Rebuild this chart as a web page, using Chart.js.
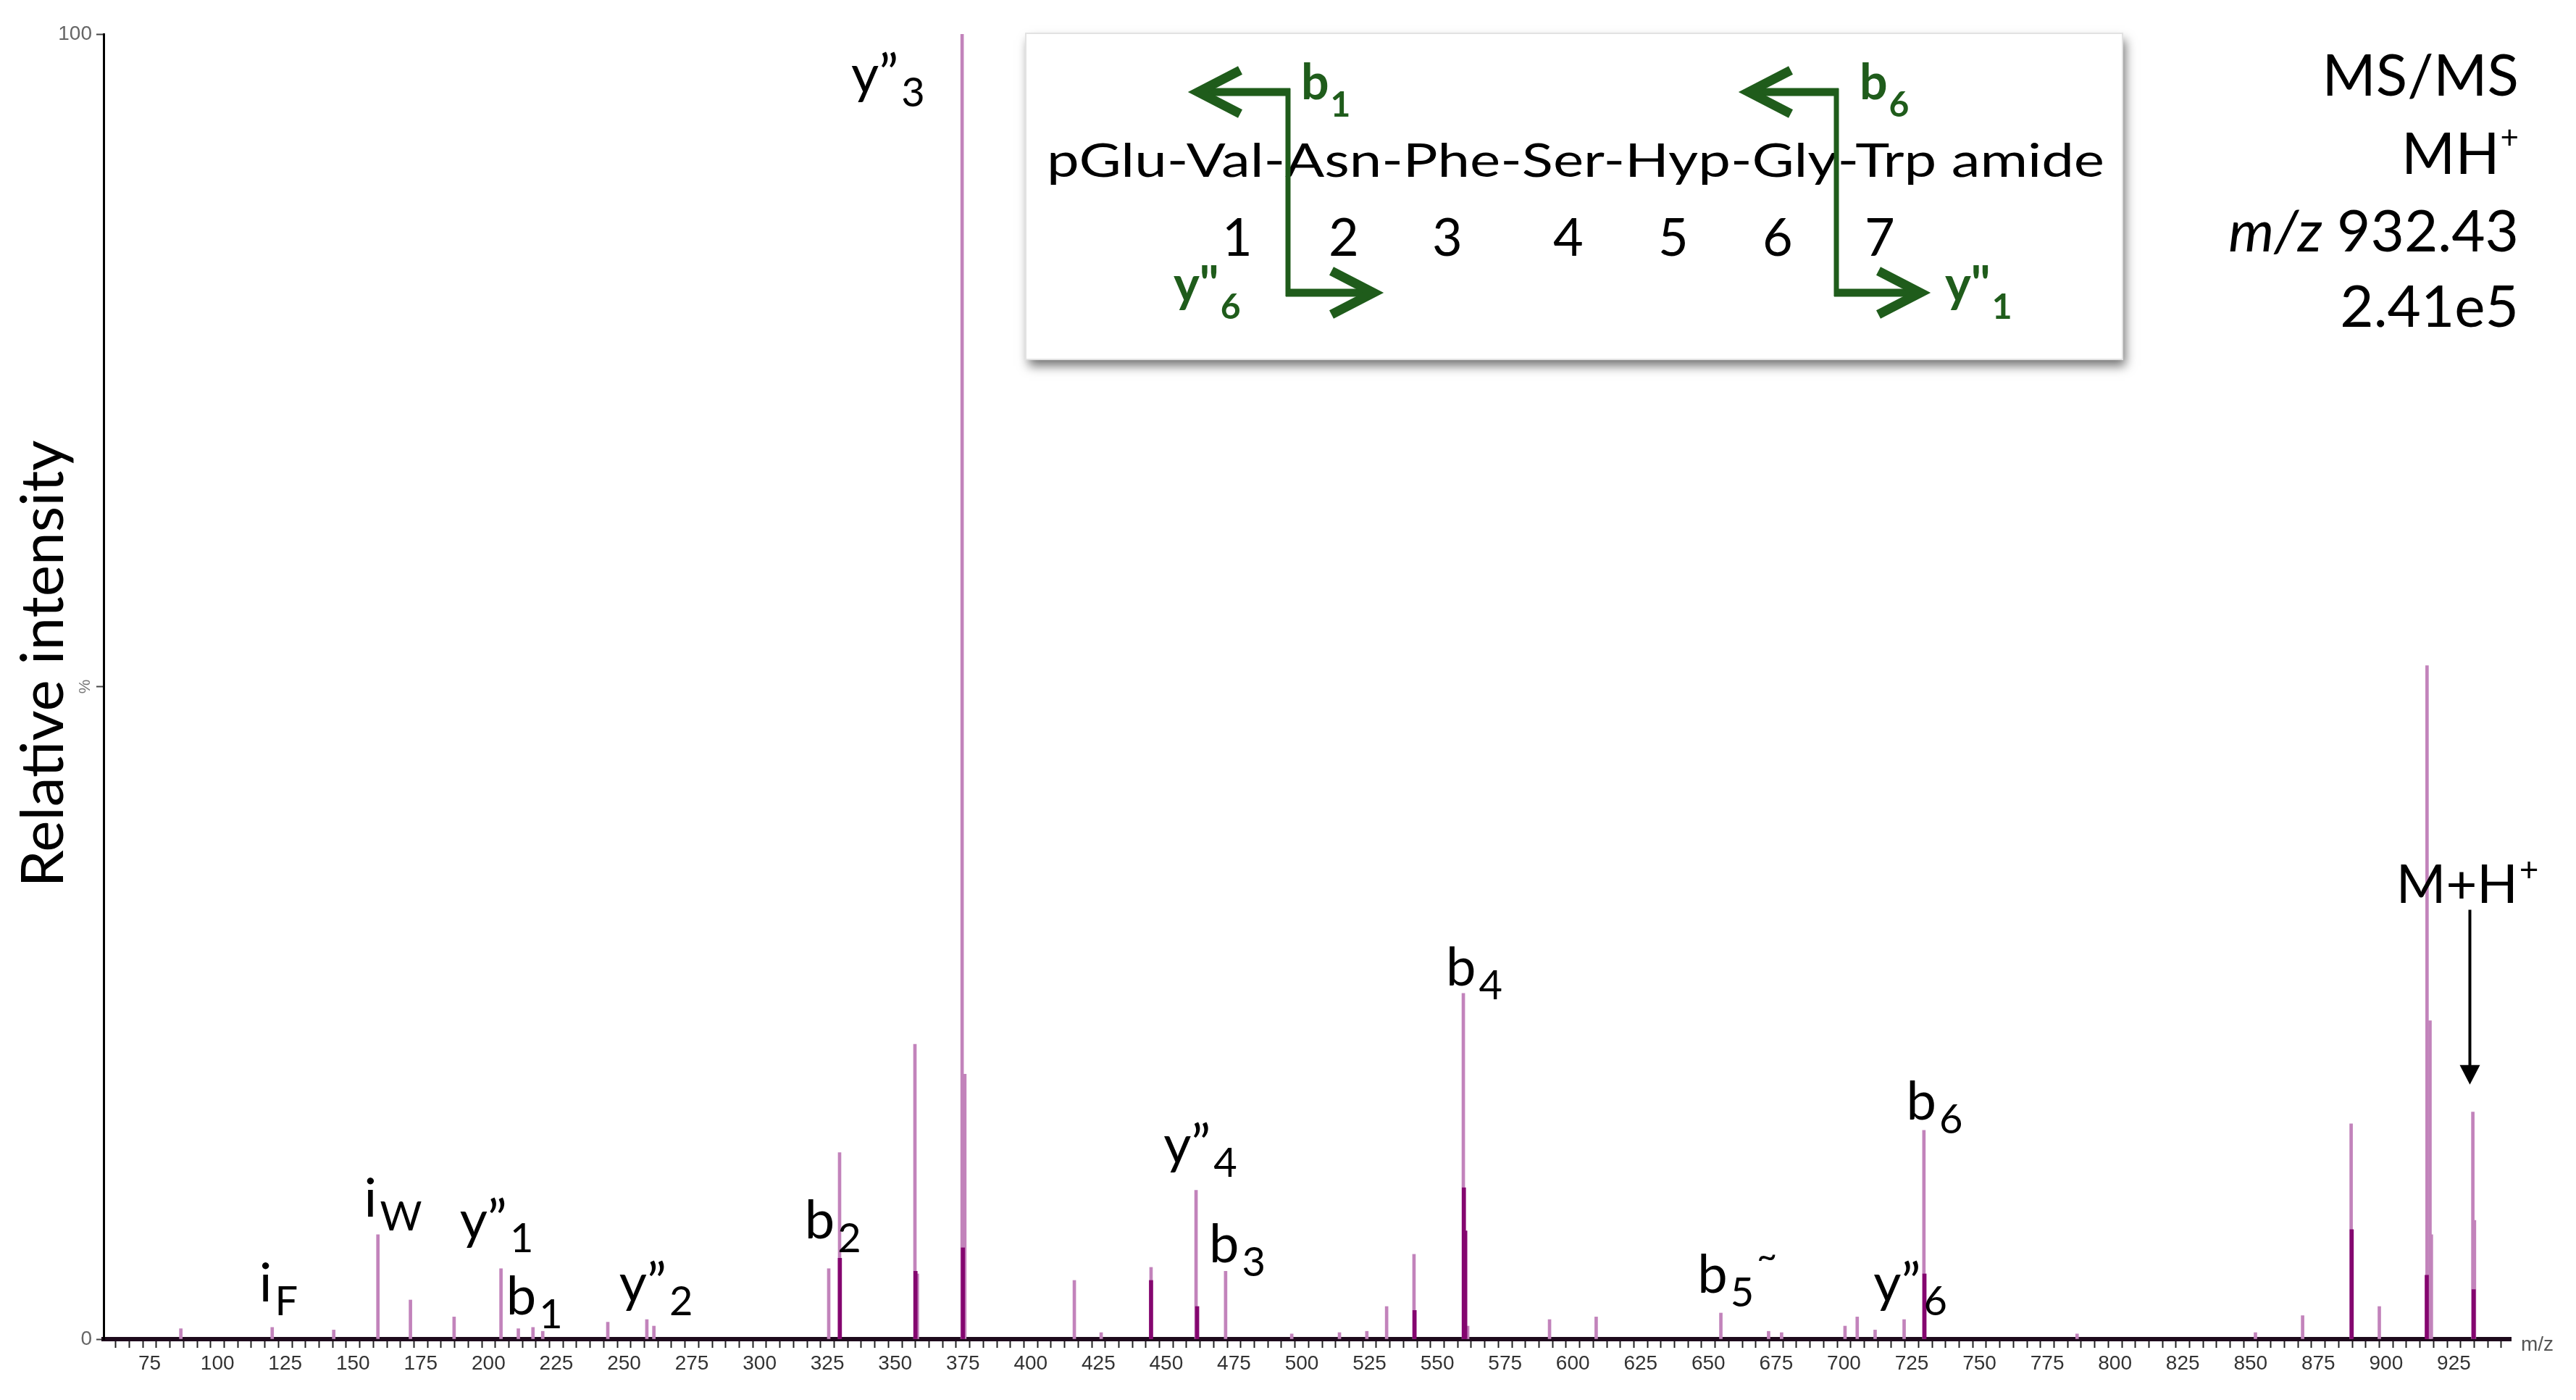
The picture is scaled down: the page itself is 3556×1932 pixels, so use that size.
<!DOCTYPE html>
<html>
<head>
<meta charset="utf-8">
<script src="https://cdn.jsdelivr.net/npm/chart.js@4.4.1/dist/chart.umd.min.js"></script>
<style>
  html, body { margin: 0; padding: 0; background: #ffffff; }
  #wrap { width: 3556px; height: 1932px; position: relative; background: #ffffff; }
  canvas { display: block; }
</style>
</head>
<body>
<div id="wrap"><canvas id="c" width="3556" height="1932"></canvas></div>
<script>
// ---------------- DATA ----------------
// Main (centroid) peaks: m/z and relative intensity (%)
const peakMz = [86.5, 120.2, 142.9, 159.2, 171.2, 187.3, 204.6, 211.0, 216.4, 220.0,
  244.0, 258.4, 261.0, 325.5, 329.5, 357.3, 358.2, 374.7, 375.7, 416.1,
  426.0, 444.4, 461.0, 471.9, 496.3, 513.9, 524.0, 531.3, 541.4, 559.6,
  561.2, 591.4, 608.6, 654.6, 672.2, 677.0, 700.4, 704.9, 711.5, 722.2,
  729.5, 786.0, 851.8, 869.2, 887.1, 897.5, 915.1, 916.2, 916.7, 932.0, 932.6];
const peakIntensity = [0.8, 0.9, 0.7, 8.0, 3.0, 1.7, 5.4, 0.8, 0.9, 0.6,
  1.3, 1.5, 1.0, 5.4, 14.3, 22.6, 5.0, 100, 20.3, 4.5,
  0.5, 5.5, 11.4, 5.2, 0.4, 0.5, 0.6, 2.5, 6.5, 26.5,
  1.0, 1.5, 1.7, 2.0, 0.6, 0.5, 1.0, 1.7, 0.7, 1.5,
  16.0, 0.4, 0.5, 1.8, 16.5, 2.5, 51.6, 24.4, 8.0, 17.4, 9.1];
// Darker base portions of the peaks
const baseMz = [329.6, 357.5, 375.0, 444.4, 461.4, 541.6, 559.8, 560.3, 729.7, 887.3, 915.0, 932.3];
const baseIntensity = [6.2, 5.2, 7.0, 4.5, 2.5, 2.2, 11.6, 8.3, 5.0, 8.4, 4.9, 3.8];

// Axis ranges / ticks
const xMin = 58, xMax = 946;
const xTickStep = 5, xLabelStep = 25, xFirstLabel = 75;
const yTickStep = 10;
const yTickLabels = { 0: '0', 50: '', 100: '100' };

// Ion annotations (anchored in data units: m/z, %)
const ionLabels = [
  { text: 'y”', sub: '3', mz: 333.8, pct: 95.5 },
  { text: 'i',  sub: 'W', mz: 154.1, pct: 9.4 },
  { text: 'i',  sub: 'F', mz: 115.4, pct: 2.9 },
  { text: 'y”', sub: '1', mz: 189.4, pct: 7.7 },
  { text: 'b',  sub: '1', mz: 206.5, pct: 1.9 },
  { text: 'y”', sub: '2', mz: 248.2, pct: 2.9 },
  { text: 'b',  sub: '2', mz: 316.6, pct: 7.7 },
  { text: 'y”', sub: '4', mz: 449.0, pct: 13.5 },
  { text: 'b',  sub: '3', mz: 465.8, pct: 5.9 },
  { text: 'b',  sub: '4', mz: 553.2, pct: 27.1 },
  { text: 'b',  sub: '5', sup: '~', mz: 646.0, pct: 3.55 },
  { text: 'y”', sub: '6', mz: 710.9, pct: 2.9 },
  { text: 'b',  sub: '6', mz: 723.0, pct: 16.8 }
];
const precursorLabel = { text: 'M+H', sup: '+', mz: 903.7, pct: 33.4, arrowMz: 930.9, arrowFrom: 32.9, arrowTo: 19.5 };

const sequenceText = 'pGlu-Val-Asn-Phe-Ser-Hyp-Gly-Trp amide';
const residueNumbers = ['1', '2', '3', '4', '5', '6', '7'];
const infoLines = ['MS/MS', 'MH', 'm/z', '932.43', '2.41e5'];
const yTitle = 'Relative intensity';
const xUnit = 'm/z';

// ---------------- DRAWING ----------------
const LIGHT = '#c283bb';
const DARK = '#84066f';
const GREEN = '#1f5c1b';

function fitText(ctx, text, x, y, font, targetW) {
  ctx.font = font;
  const w = ctx.measureText(text).width;
  ctx.save();
  ctx.translate(x, y);
  ctx.scale(targetW / w, 1);
  ctx.fillText(text, 0, 0);
  ctx.restore();
}

function chevron(ctx, tipX, tipY, dir, lw) {
  const inset = 14 * dir;
  const tx = tipX - inset;
  ctx.lineWidth = lw;
  ctx.lineJoin = 'miter';
  ctx.miterLimit = 10;
  ctx.beginPath();
  ctx.moveTo(tx - dir * 58, tipY - 30);
  ctx.lineTo(tx, tipY);
  ctx.lineTo(tx - dir * 58, tipY + 30);
  ctx.stroke();
}

function bracket(ctx, x, yTop, yBot, leftTip, rightTip) {
  ctx.strokeStyle = GREEN;
  ctx.lineCap = 'butt';
  ctx.lineWidth = 7;
  ctx.beginPath(); ctx.moveTo(x, yTop - 5); ctx.lineTo(x, yBot + 5); ctx.stroke();
  ctx.lineWidth = 11;
  ctx.beginPath(); ctx.moveTo(x + 3, yTop); ctx.lineTo(leftTip + 12, yTop); ctx.stroke();
  ctx.beginPath(); ctx.moveTo(x - 3, yBot); ctx.lineTo(rightTip - 12, yBot); ctx.stroke();
  chevron(ctx, leftTip, yTop, -1, 13);
  chevron(ctx, rightTip, yBot, 1, 13);
}

const annotationPlugin = {
  id: 'annotations',
  afterDatasetsDraw(chart) {
    const ctx = chart.ctx;
    const xs = chart.scales.x, ys = chart.scales.y;
    ctx.save();
    ctx.textBaseline = 'alphabetic';

    // Ion labels
    ionLabels.forEach(l => {
      const x = xs.getPixelForValue(l.mz), y = ys.getPixelForValue(l.pct);
      ctx.fillStyle = '#000';
      ctx.textAlign = 'left';
      ctx.font = '74px Lato';
      ctx.fillText(l.text, x, y);
      const w = ctx.measureText(l.text).width;
      ctx.font = '56px Lato';
      ctx.fillText(l.sub, x + w + 4, y + 19);
      if (l.sup) {
        const sw = ctx.measureText(l.sub).width;
        ctx.font = '48px Lato';
        ctx.fillText(l.sup, x + w + sw + 8, y - 34);
      }
    });

    // Precursor label and arrow
    {
      const p = precursorLabel;
      const x = xs.getPixelForValue(p.mz), y = ys.getPixelForValue(p.pct);
      ctx.fillStyle = '#000';
      ctx.font = '74px Lato';
      ctx.fillText(p.text, x, y);
      const w = ctx.measureText(p.text).width;
      ctx.font = '46px Lato';
      ctx.fillText(p.sup, x + w + 2, y - 30);
      const ax = xs.getPixelForValue(p.arrowMz);
      const a0 = ys.getPixelForValue(p.arrowFrom), a1 = ys.getPixelForValue(p.arrowTo);
      ctx.strokeStyle = '#000'; ctx.lineWidth = 4;
      ctx.beginPath(); ctx.moveTo(ax, a0); ctx.lineTo(ax, a1 - 24); ctx.stroke();
      ctx.beginPath(); ctx.moveTo(ax - 14, a1 - 27); ctx.lineTo(ax + 14, a1 - 27); ctx.lineTo(ax, a1); ctx.closePath(); ctx.fill();
    }

    // Y axis title
    ctx.save();
    ctx.translate(61, 916);
    ctx.rotate(-Math.PI / 2);
    ctx.textAlign = 'center';
    ctx.textBaseline = 'middle';
    ctx.fillStyle = '#000';
    ctx.font = '70px Lato';
    const tw = ctx.measureText(yTitle).width;
    ctx.scale(617 / tw, 617 / tw);
    ctx.fillText(yTitle, 0, 0);
    ctx.restore();

    // "%" on the y axis middle
    ctx.save();
    ctx.translate(118, ys.getPixelForValue(50));
    ctx.rotate(-Math.PI / 2);
    ctx.textAlign = 'center';
    ctx.textBaseline = 'middle';
    ctx.fillStyle = '#777';
    ctx.font = '22px "Liberation Sans", Arial';
    ctx.fillText('%', 0, 0);
    ctx.restore();

    // "m/z" unit at end of the x axis
    ctx.fillStyle = '#555';
    ctx.textAlign = 'left';
    ctx.textBaseline = 'middle';
    ctx.font = '28px "Liberation Sans", Arial';
    ctx.fillText(xUnit, xs.right + 14, ys.bottom + 8);
    ctx.textBaseline = 'alphabetic';

    // Inset box with shadow
    const bx = 1416, by = 46, bw = 1514, bh = 450;
    ctx.save();
    ctx.shadowColor = 'rgba(0,0,0,0.55)';
    ctx.shadowBlur = 14;
    ctx.shadowOffsetX = 4;
    ctx.shadowOffsetY = 9;
    ctx.fillStyle = '#ffffff';
    ctx.fillRect(bx, by, bw, bh);
    ctx.restore();
    ctx.strokeStyle = '#e2e2e2';
    ctx.lineWidth = 2;
    ctx.strokeRect(bx, by, bw, bh);

    // Sequence
    ctx.fillStyle = '#000';
    ctx.textAlign = 'left';
    fitText(ctx, sequenceText, 1445, 244, '64px Lato', 1460);
    const numX = [1708, 1855, 1998, 2165, 2310, 2454, 2595];
    ctx.textAlign = 'center';
    ctx.font = '72px Lato';
    residueNumbers.forEach((n, i) => ctx.fillText(n, numX[i], 353));

    // Fragmentation brackets
    bracket(ctx, 1778, 127, 404, 1640, 1910);
    bracket(ctx, 2535, 127, 404, 2400, 2665);

    // Green labels
    ctx.fillStyle = GREEN;
    ctx.textAlign = 'left';
    const greenLab = (main, sub, x, y) => {
      ctx.font = 'bold 68px Lato';
      ctx.fillText(main, x, y);
      const w = ctx.measureText(main).width;
      ctx.font = 'bold 48px Lato';
      ctx.fillText(sub, x + w + 2, y + 24);
    };
    greenLab('b', '1', 1796, 137);
    greenLab('b', '6', 2567, 137);
    greenLab('y"', '6', 1620, 416);
    greenLab('y"', '1', 2685, 416);

    // Right info block
    ctx.fillStyle = '#000';
    ctx.textAlign = 'right';
    const rx = 3477;
    ctx.font = '80px Lato';
    ctx.fillText(infoLines[0], rx, 132);
    ctx.font = '44px Lato';
    const plusW = ctx.measureText('+').width;
    ctx.fillText('+', rx, 205);
    ctx.font = '80px Lato';
    ctx.fillText(infoLines[1], rx - plusW - 1, 240);
    const numW = ctx.measureText(' ' + infoLines[3]).width;
    ctx.fillText(' ' + infoLines[3], rx, 347);
    ctx.font = 'italic 80px Lato';
    ctx.fillText(infoLines[2], rx - numW, 347);
    ctx.font = '80px Lato';
    ctx.fillText(infoLines[4], rx, 451);

    ctx.restore();
  }
};

const chart = new Chart(document.getElementById('c').getContext('2d'), {
  type: 'bar',
  data: {
    datasets: [
      {
        label: 'Peaks',
        data: peakMz.map((m, i) => ({ x: m, y: peakIntensity[i] })),
        backgroundColor: LIGHT,
        barThickness: 4,
        grouped: false,
        order: 2
      },
      {
        label: 'Peak base',
        data: baseMz.map((m, i) => ({ x: m, y: baseIntensity[i] })),
        backgroundColor: DARK,
        barThickness: 5,
        grouped: false,
        order: 1
      }
    ]
  },
  options: {
    responsive: false,
    animation: false,
    devicePixelRatio: 1,
    layout: { padding: { left: 0, right: 90, top: 47, bottom: 0 } },
    plugins: { legend: { display: false }, tooltip: { enabled: false } },
    scales: {
      x: {
        type: 'linear',
        min: xMin,
        max: xMax,
        offset: false,
        grid: { drawOnChartArea: false, drawTicks: true, tickLength: 12, tickWidth: 2, tickColor: '#222' },
        border: { display: true, color: '#1e0a1c', width: 6 },
        ticks: {
          stepSize: xTickStep,
          autoSkip: false,
          includeBounds: false,
          maxRotation: 0,
          minRotation: 0,
          padding: 5,
          color: '#333',
          font: { family: '"Liberation Sans", Arial, sans-serif', size: 28 },
          callback: (v) => (v % xLabelStep === 0 && v >= xFirstLabel) ? String(v) : ''
        },
        afterFit: (s) => { s.height = 84; }
      },
      y: {
        min: 0,
        max: 100,
        grid: {
          drawOnChartArea: false, drawTicks: true, tickLength: 10,
          tickWidth: (c) => (c.tick && yTickLabels[c.tick.value] !== undefined ? 2 : 1),
          tickColor: (c) => (c.tick && yTickLabels[c.tick.value] !== undefined ? '#444' : 'rgba(0,0,0,0)')
        },
        border: { display: true, color: '#000', width: 3 },
        ticks: {
          stepSize: yTickStep,
          autoSkip: false,
          padding: 6,
          color: '#666',
          font: { family: '"Liberation Sans", Arial, sans-serif', size: 28 },
          callback: (v) => (yTickLabels[v] !== undefined ? yTickLabels[v] : '')
        },
        afterFit: (s) => { s.width = 143; }
      }
    }
  },
  plugins: [annotationPlugin]
});
</script>
</body>
</html>
